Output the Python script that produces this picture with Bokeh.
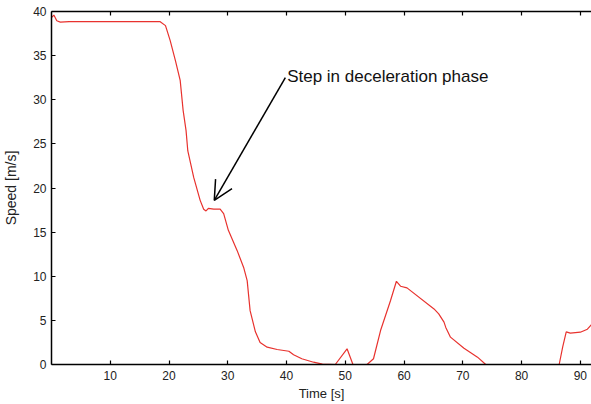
from bokeh.plotting import figure
from bokeh.models import Range1d, LinearAxis, Arrow, OpenHead, Label, FixedTicker
from bokeh.embed import file_html
from bokeh.resources import INLINE

time_s = [0, 0.4, 0.9, 1.5, 3, 10, 18.5, 19.4, 20.2, 21.1, 21.9, 22.4, 22.9, 23.2, 24.2,
          25.3, 25.9, 26.3, 26.7, 27.6, 28.7, 29.3, 30.1, 31.6, 32.7, 33.3, 33.8, 34.7,
          35.5, 36.7, 38.4, 40.4, 41.2, 42.6, 44.6, 46.1, 48.3, 50.3, 51.3, 53.7, 54.8,
          56.0, 57.7, 58.7, 59.4, 60.5, 65.1, 65.9, 66.8, 67.1, 67.9, 70.2, 72.5, 73.9,
          86.4, 87.0, 87.6, 88.3, 90.0, 91.2, 92.0]
speed = [39.3, 39.6, 38.95, 38.8, 38.85, 38.85, 38.85, 38.4, 36.7, 34.4, 32.2, 28.8, 26.5,
         24.2, 21.2, 18.6, 17.6, 17.4, 17.7, 17.6, 17.6, 17.1, 15.2, 12.9, 11.0, 9.5, 6.1,
         3.7, 2.5, 1.96, 1.7, 1.5, 1.1, 0.65, 0.26, 0.05, 0.0, 1.78, 0.0, 0.0, 0.65, 3.85,
         7.25, 9.43, 8.87, 8.68, 6.3, 5.74, 4.8, 4.2, 3.1, 1.85, 0.83, 0.0, 0.0, 2.0, 3.7,
         3.55, 3.66, 4.0, 4.6]
x_ticks = [10, 20, 30, 40, 50, 60, 70, 80, 90]
y_ticks = [0, 5, 10, 15, 20, 25, 30, 35, 40]
annotation_text = "Step in deceleration phase"
arrow_tail = (39.8, 32.5)
arrow_tip = (27.7, 18.6)

FONT = "Liberation Sans"

p = figure(width=591, height=404, output_backend="svg", toolbar_location=None,
           x_range=Range1d(0, 91.9), y_range=Range1d(0, 40),
           min_border_left=51, min_border_right=0, min_border_top=11, min_border_bottom=40)
p.outline_line_color = None
p.grid.grid_line_color = None
p.background_fill_color = "white"

p.line(time_s, speed, line_color="#e8322e", line_width=1.2)

for ax in (p.xaxis[0], p.yaxis[0]):
    ax.major_tick_in = 4
    ax.major_tick_out = 0
    ax.minor_tick_in = 0
    ax.minor_tick_out = 0
    ax.axis_line_color = "black"
    ax.axis_line_width = 1.5
    ax.major_tick_line_color = "black"
    ax.major_tick_line_width = 1.2
    ax.major_label_text_font = FONT
    ax.major_label_text_font_size = "12px"
    ax.major_label_text_color = "#222222"
    ax.axis_label_text_font = FONT
    ax.axis_label_text_font_style = "normal"
    ax.axis_label_text_color = "#222222"

p.xaxis[0].ticker = FixedTicker(ticks=x_ticks)
p.yaxis[0].ticker = FixedTicker(ticks=y_ticks)
p.xaxis[0].axis_label = "Time [s]"
p.xaxis[0].axis_label_text_font_size = "13px"
p.xaxis[0].major_label_standoff = 6
p.xaxis[0].axis_label_standoff = 3
p.yaxis[0].axis_label = "Speed [m/s]"
p.yaxis[0].axis_label_text_font_size = "14px"
p.yaxis[0].major_label_standoff = 5
p.yaxis[0].axis_label_standoff = 11

top = LinearAxis(ticker=FixedTicker(ticks=x_ticks), major_tick_in=4, major_tick_out=0,
                 minor_tick_in=0, minor_tick_out=0,
                 major_label_overrides={t: "" for t in x_ticks},
                 major_label_standoff=0, axis_line_width=1.5, major_tick_line_width=1.2)
p.add_layout(top, "above")

p.add_layout(Arrow(end=OpenHead(size=19, line_width=1.5, line_color="black"),
                   x_start=arrow_tail[0], y_start=arrow_tail[1],
                   x_end=arrow_tip[0], y_end=arrow_tip[1],
                   line_width=1.5, line_color="black"))
p.add_layout(Label(x=40.1, y=32.6, text=annotation_text, text_font=FONT,
                   text_font_size="17px", text_baseline="middle", text_color="#111111"))

open("out.html", "w").write(file_html(p, INLINE))
